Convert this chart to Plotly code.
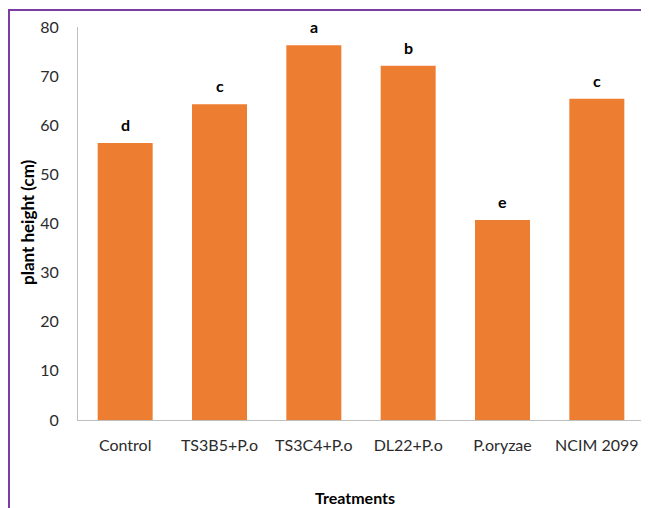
import plotly.graph_objects as go

categories = ["Control", "TS3B5+P.o", "TS3C4+P.o", "DL22+P.o", "P.oryzae", "NCIM 2099"]
heights = [56.4, 64.3, 76.3, 72.1, 40.7, 65.4]
letters = ["d", "c", "a", "b", "e", "c"]
y_ticks = [0, 10, 20, 30, 40, 50, 60, 70, 80]

FONT = "Lato, Open Sans, sans-serif"

fig = go.Figure()
fig.add_trace(go.Bar(
    x=categories, y=heights,
    marker=dict(color="#ED7D31", line=dict(width=0)),
    hoverinfo="skip",
))

for c, v, l in zip(categories, heights, letters):
    fig.add_annotation(x=c, y=v, text="<b>%s</b>" % l, showarrow=False,
                       yanchor="bottom", yshift=7,
                       font=dict(family=FONT, size=16, color="#000000"))

# figure is placed at (8, 8) in the page by the body margin
W, H = 641, 500
L, T, R = 70, 19, 5
PH = 393
B = H - T - PH
PW = W - L - R

fig.add_annotation(xref="paper", yref="paper", x=(355 - 78) / PW, y=0,
                   yanchor="middle", yshift=-77, showarrow=False,
                   text="<b>Treatments</b>", font=dict(family=FONT, size=16, color="#000000"))
fig.add_annotation(xref="paper", yref="paper", x=0, y=(420 - 222) / PH,
                   xanchor="center", xshift=-51, showarrow=False, textangle=-90,
                   text="<b>plant height (cm)</b>", font=dict(family=FONT, size=17, color="#000000"))

# purple frame around the chart
fig.add_shape(type="rect", xref="paper", yref="paper",
              x0=(1 - L) / PW, x1=(W + 10 - L) / PW,
              y0=-(H + 10 - (T + PH)) / PH, y1=(T + PH - 2) / PH,
              line=dict(color="#7A3DA6", width=2), fillcolor="rgba(0,0,0,0)")

fig.update_layout(
    width=W, height=H,
    margin=dict(l=L, r=R, t=T, b=B, pad=0),
    paper_bgcolor="white", plot_bgcolor="white",
    bargap=0.417,
    showlegend=False,
    font=dict(family=FONT, size=16, color="#2b2b2b"),
    xaxis=dict(
        showline=True, linecolor="#BFBFBF", linewidth=1,
        showgrid=False, ticks="", ticklabelstandoff=11,
        tickfont=dict(family=FONT, size=16, color="#2b2b2b"),
    ),
    yaxis=dict(
        range=[0, 80], tickvals=y_ticks,
        showline=True, linecolor="#BFBFBF", linewidth=1,
        showgrid=False, zeroline=False, ticks="", ticklabelstandoff=15,
        tickfont=dict(family=FONT, size=16, color="#2b2b2b"),
    ),
)

fig.write_html("out.html")
